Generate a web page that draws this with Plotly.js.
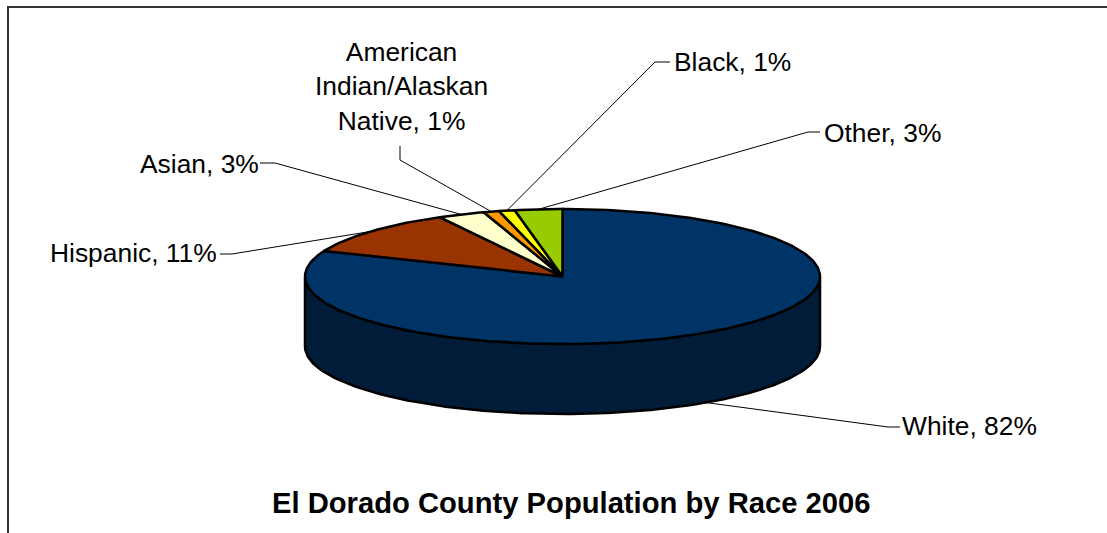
<!DOCTYPE html>
<html>
<head>
<meta charset="utf-8">
<script src="https://cdn.plot.ly/plotly-3.0.1.min.js"></script>
<style>html,body{margin:0;padding:0;background:#fff}#chart{width:1107px;height:533px}</style>
</head>
<body>
<div id="chart"></div>
<script>
// Population shares by race, in percent, in drawing order (clockwise from 12 o'clock)
const categories = ["White", "Hispanic", "Asian", "American Indian/Alaskan Native", "Black", "Other"];
const shares = [82, 11, 3, 1, 1, 3];
const sliceColors = ["#003366", "#993300", "#FFFFCC", "#FF9900", "#FFFF00", "#99CC00"];
const wallColor = "#001C38";
const chartTitle = "El Dorado County Population by Race 2006";

// Label placement on the page, in pixels: text anchor and the elbow of the leader line
const W = 1107, H = 533;
const callouts = [
  {text: "White, 82%",  x: 900, y: 426, anchor: "left",  elbow: [[888, 427], [900, 427]], onWall: true},
  {text: "Hispanic, 11%", x: 219, y: 253, anchor: "right", elbow: [[232, 254], [220, 254]]},
  {text: "Asian, 3%", x: 261, y: 164, anchor: "right", elbow: [[275, 163], [260, 163]]},
  {text: "American<br>Indian/Alaskan<br>Native, 1%", x: 401, y: 87, anchor: "center", elbow: [[400, 160], [400, 146]]},
  {text: "Black, 1%", x: 672, y: 62, anchor: "left", elbow: [[655, 62], [670, 62]]},
  {text: "Other, 3%", x: 822, y: 133, anchor: "left", elbow: [[808, 132], [820, 132]]}
];

// Disc geometry: the axes are scaled so the top face is a unit circle on screen as an ellipse
const cx = 562.5, cy = 276.5, rx = 257.5, ry = 67.5, depth = 70 / 67.5;
const xRange = [-cx / rx, (W - cx) / rx];
const yRange = [(cy - H) / ry, cy / ry];
const toX = px => (px - cx) / rx;
const toY = py => (cy - py) / ry;

const total = shares.reduce((a, b) => a + b, 0);
const rimX = t => Math.sin(t * 2 * Math.PI);
const rimY = t => Math.cos(t * 2 * Math.PI);

function arc(from, to) {
  const n = Math.max(2, Math.ceil((to - from) * 360));
  const pts = [];
  for (let i = 0; i <= n; i++) pts.push(from + (to - from) * i / n);
  return pts;
}

const traces = [];

// Visible side wall: the front half of the rim, extruded downward, closed at its first point
const front = arc(0.25, 0.75);
const back = front.slice().reverse();
traces.push({
  x: front.map(rimX).concat(back.map(rimX), [rimX(front[0])]),
  y: front.map(t => rimY(t) - depth).concat(back.map(rimY), [rimY(front[0]) - depth]),
  mode: "lines", fill: "toself", fillcolor: wallColor,
  line: {color: "#000", width: 2.5}, hoverinfo: "skip"
});

// Top face, one wedge for each share
let start = 0;
const mids = [];
shares.forEach((v, i) => {
  const end = start + v / total;
  const rim = arc(start, end);
  traces.push({
    x: [0].concat(rim.map(rimX), [0]),
    y: [0].concat(rim.map(rimY), [0]),
    name: categories[i],
    mode: "lines", fill: "toself", fillcolor: sliceColors[i],
    line: {color: "#000", width: 2.5}, hoverinfo: "name"
  });
  mids.push((start + end) / 2);
  start = end;
});

// Leader lines run from each wedge's mid-angle on the rim out to its label
callouts.forEach((c, i) => {
  const drop = c.onWall ? depth : 0;
  traces.push({
    x: [rimX(mids[i])].concat(c.elbow.map(p => toX(p[0]))),
    y: [rimY(mids[i]) - drop].concat(c.elbow.map(p => toY(p[1]))),
    mode: "lines", line: {color: "#000", width: 1}, hoverinfo: "skip"
  });
});

const annotations = callouts.map(c => ({
  text: c.text, xref: "paper", yref: "paper",
  x: c.x / W, y: 1 - c.y / H,
  xanchor: c.anchor, yanchor: "middle", align: "center",
  showarrow: false,
  font: {family: "Liberation Sans, Arial, sans-serif", size: 26.4, color: "#000"}
}));
annotations.push({
  text: "<b>" + chartTitle + "</b>", xref: "paper", yref: "paper",
  x: 571 / W, y: 1 - 503 / H, xanchor: "center", yanchor: "middle",
  showarrow: false,
  font: {family: "Liberation Sans, Arial, sans-serif", size: 29.2, color: "#000"}
});

const hidden = {visible: false, fixedrange: true};
Plotly.newPlot("chart", traces, {
  width: W, height: H,
  margin: {l: 0, r: 0, t: 0, b: 0},
  paper_bgcolor: "#fff", plot_bgcolor: "#fff",
  showlegend: false,
  xaxis: Object.assign({range: xRange}, hidden),
  yaxis: Object.assign({range: yRange}, hidden),
  annotations: annotations,
  shapes: [{
    // Chart frame: only the left and top edges fall inside the page
    type: "path", xref: "paper", yref: "paper",
    path: `M ${8 / W} 0 L ${8 / W} ${1 - 7 / H} L 1 ${1 - 7 / H}`,
    line: {color: "#333", width: 2}
  }]
}, {displayModeBar: false});
</script>
</body>
</html>
